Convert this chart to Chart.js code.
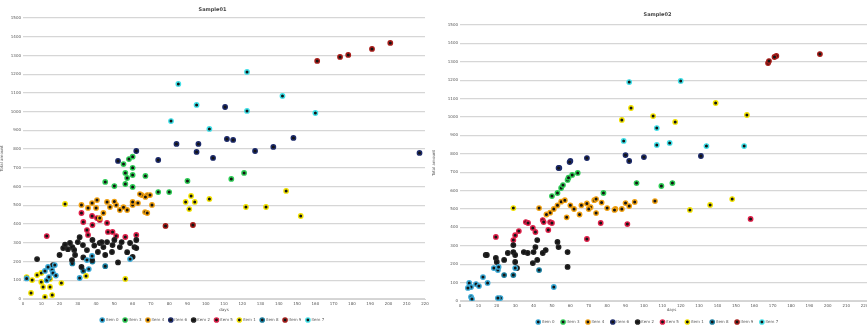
<!DOCTYPE html>
<html>
<head>
<meta charset="utf-8">
<script src="https://cdn.jsdelivr.net/npm/chart.js@4/dist/chart.umd.min.js"></script>
<style>
  body { margin: 0; background: #fff; width: 867px; height: 329px; overflow: hidden; position: relative; }
  canvas { position: absolute; top: 0; background: #fff; }
</style>
</head>
<body>
<canvas id="chartA" width="446" height="329" style="left:0"></canvas>
<canvas id="chartB" width="460" height="329" style="left:432px"></canvas>
<script>
// legend labels (same order for both panels)
const groupNames = ["item 0", "item 3", "item 4", "item 6", "item 2", "item 5", "item 1", "item 8", "item 9", "item 7"];
const groupColors = ["#39a9d6", "#2ecc55", "#f0a010", "#1c2a6a", "#222222", "#e0204a", "#f2e200", "#1a7fa0", "#a81c18", "#3fe0e8"];

// ---- left panel (Sample01) ----
const a0 = [[2,110],[13,100],[13.7,171],[14.2,117],[15.9,155],[16.4,139],[17.4,181],[12,150],[18,125],[31,112],[35,208],[37.8,230],[36,160],[58.6,213]];
const a1 = [[58,747],[60,700],[56,673],[60,662],[67,657],[45,625],[50,603],[56,614],[60,598],[57,646],[90,630],[114,641],[121,673],[74,571],[80,571],[60,760],[55,720]];
const a2 = [[32,502],[37.8,512],[40,486],[46,518],[47.6,491],[51,502],[53,475],[44,459],[42,432],[60,502],[62.9,512],[65,555],[68,555],[66.8,464],[68,459],[57,475],[64,560],[67,545],[69.5,555],[70.6,502],[60,518],[35.6,486],[40.5,528],[50,520],[55,490]];
const a3 = [[110.6,1025],[84,828],[96,828],[111.6,854],[115,849],[148,860],[137,812],[127,790],[95,785],[104,753],[62,790],[74,742],[52,737],[217,780]];
const a4 = [[7.7,213],[22,272],[24.6,266],[27,277],[25.7,299],[30,304],[32.8,288],[35,261],[38,315],[42,299],[44,277],[46,304],[49,288],[43,304],[26.8,208],[28.5,235],[32,171],[41,251],[48.7,251],[53,277],[61,277],[62,315],[54,304],[37.8,208],[16.4,181],[20,235],[62,272],[58.6,299],[23,290],[28,262],[33,222],[39,285],[45,235],[50,315],[57,250],[60,225],[31,330],[52,195]];
const a5 = [[32,459],[33,411],[35,368],[38,395],[40.5,432],[42,422],[37.8,443],[46.5,358],[49,358],[51,336],[46,406],[35.6,342],[13,336],[62,342],[56,331]];
const a6 = [[2,117],[5,101],[7.7,128],[10,139],[10,91],[11,64],[12,11],[16,21],[14.8,64],[4.4,32],[21,85],[14.8,107],[89,518],[92,550],[94,518],[91,480],[102,534],[122,491],[133,491],[144,577],[152,443],[23,507],[56,107],[34.5,123]];
const a7 = [[27,190],[33,150],[38,200],[45,175]];
const a8 = [[161,1271],[173.5,1292],[178,1303],[191,1335],[201,1367],[78,390],[93,395]];
const a9 = [[85,1148],[122.6,1212],[142,1084],[160,993],[122.6,1004],[95,1036],[102,908],[81,950]];

// ---- right panel (Sample02) ----
const b0 = [[5,98],[6,76],[8.7,92],[10.3,81],[12.5,130],[15,98],[4.3,71],[6,22],[18.4,179],[20.6,168],[21,185],[30,179],[22,16],[6.5,11],[51,76],[20.6,16]];
const b1 = [[53,587],[55,614],[56,630],[58.5,658],[61,685],[64,696],[96,641],[109.5,625],[115.5,641],[78,587],[50,570],[59,670]];
const b2 = [[49,480],[51,500],[53,520],[55,540],[57,548],[60,520],[62,500],[65,470],[66,520],[71,510],[73,548],[74,554],[74,478],[84.5,500],[90,532],[92,516],[95,538],[106,543],[43,505],[47,470],[69,530],[77,535],[80,505],[84,495],[88,500],[70,500],[58,455]];
const b3 = [[90,793],[92,761],[100,782],[131,788],[69,777],[60,761],[54,723],[53.6,723],[59.6,755]];
const b4 = [[14,250],[19.5,234],[20,212],[26,261],[24,223],[29,304],[29,266],[30,250],[34.7,266],[36.8,261],[40,266],[42,223],[39.6,206],[41,293],[42,331],[46.6,277],[45,261],[53,321],[53.6,293],[58.5,266],[58.5,185],[30,212],[31,179],[14.6,250]];
const b5 = [[29,331],[30,358],[32,380],[35.8,429],[37,424],[39.6,397],[41,375],[45,440],[45.5,429],[49,429],[48,386],[50,424],[19.5,348],[69,337],[91,418],[76.5,424],[158,446]];
const b6 = [[93,1049],[88,984],[105,1005],[117,973],[139,1076],[156,1011],[29,505],[125,495],[136,522],[148,554]];
const b7 = [[24,141],[29,141],[43,168]];
const b8 = [[167.5,1293],[168,1304],[172,1332],[171,1326],[195.7,1342]];
const b9 = [[92,1190],[120,1196],[107,940],[89,870],[107,848],[114,859],[134,842],[154.5,842]];

const FONT = "'DejaVu Sans', sans-serif";

function makeDatasets(list) {
  return list.map((pts, i) => ({
    label: groupNames[i],
    data: pts.map(p => ({ x: p[0], y: p[1] })),
    backgroundColor: "#151515",
    borderColor: groupColors[i],
    pointBackgroundColor: "#141414",
    pointBorderColor: groupColors[i],
    pointBorderWidth: 1.4,
    pointRadius: 2.2,
    showLine: false
  }));
}

function buildChart(id, title, list, xMax, g) {
  return new Chart(document.getElementById(id), {
    type: "scatter",
    data: { datasets: makeDatasets(list) },
    options: {
      responsive: false,
      animation: false,
      layout: { padding: { left: 0, right: g.padRight, top: 0, bottom: g.padBottom } },
      plugins: {
        title: {
          display: true, text: title, color: "#444",
          font: { family: FONT, size: 5, weight: "bold" },
          padding: { top: g.titleTop, bottom: g.titleBottom }
        },
        legend: {
          position: "bottom",
          labels: {
            usePointStyle: true, pointStyle: "circle", boxWidth: 3, boxHeight: 3,
            padding: g.legendPad, color: "#555", font: { family: FONT, size: 4 }
          }
        },
        tooltip: { enabled: false }
      },
      scales: {
        x: {
          type: "linear", min: 0, max: xMax,
          title: { display: true, text: "days", color: "#555", font: { family: FONT, size: 4 }, padding: 1 },
          ticks: { stepSize: 10, color: "#555", font: { family: FONT, size: 4 }, padding: 1, maxRotation: 0, autoSkip: false, callback: v => String(v) },
          grid: { display: false, drawTicks: true, tickLength: 2 },
          border: { display: true, color: "#d4d4d4" },
          afterFit: s => { s.height = g.xHeight; s.paddingLeft = 0; s.paddingRight = 0; }
        },
        y: {
          type: "linear", min: 0, max: 1500,
          title: { display: true, text: "Total amount", color: "#555", font: { family: FONT, size: 4 }, padding: 0 },
          ticks: { stepSize: 100, color: "#555", font: { family: FONT, size: 4 }, padding: 2, callback: v => String(v) },
          grid: { color: "#d6d6d6", lineWidth: 1.3, drawTicks: false },
          border: { display: false },
          afterFit: s => { s.width = g.yWidth; s.paddingTop = 0; s.paddingBottom = 0; }
        }
      }
    }
  });
}

buildChart("chartA", "Sample01", [a0, a1, a2, a3, a4, a5, a6, a7, a8, a9], 220,
  { yWidth: 23, xHeight: 14, titleTop: 7, titleBottom: 5, padRight: 21, legendPad: 5, padBottom: -3 });
buildChart("chartB", "Sample02", [b0, b1, b2, b3, b4, b5, b6, b7, b8, b9], 230,
  { yWidth: 28, xHeight: 12, titleTop: 12, titleBottom: 7, padRight: 9, legendPad: 7, padBottom: -5 });
</script>
</body>
</html>
